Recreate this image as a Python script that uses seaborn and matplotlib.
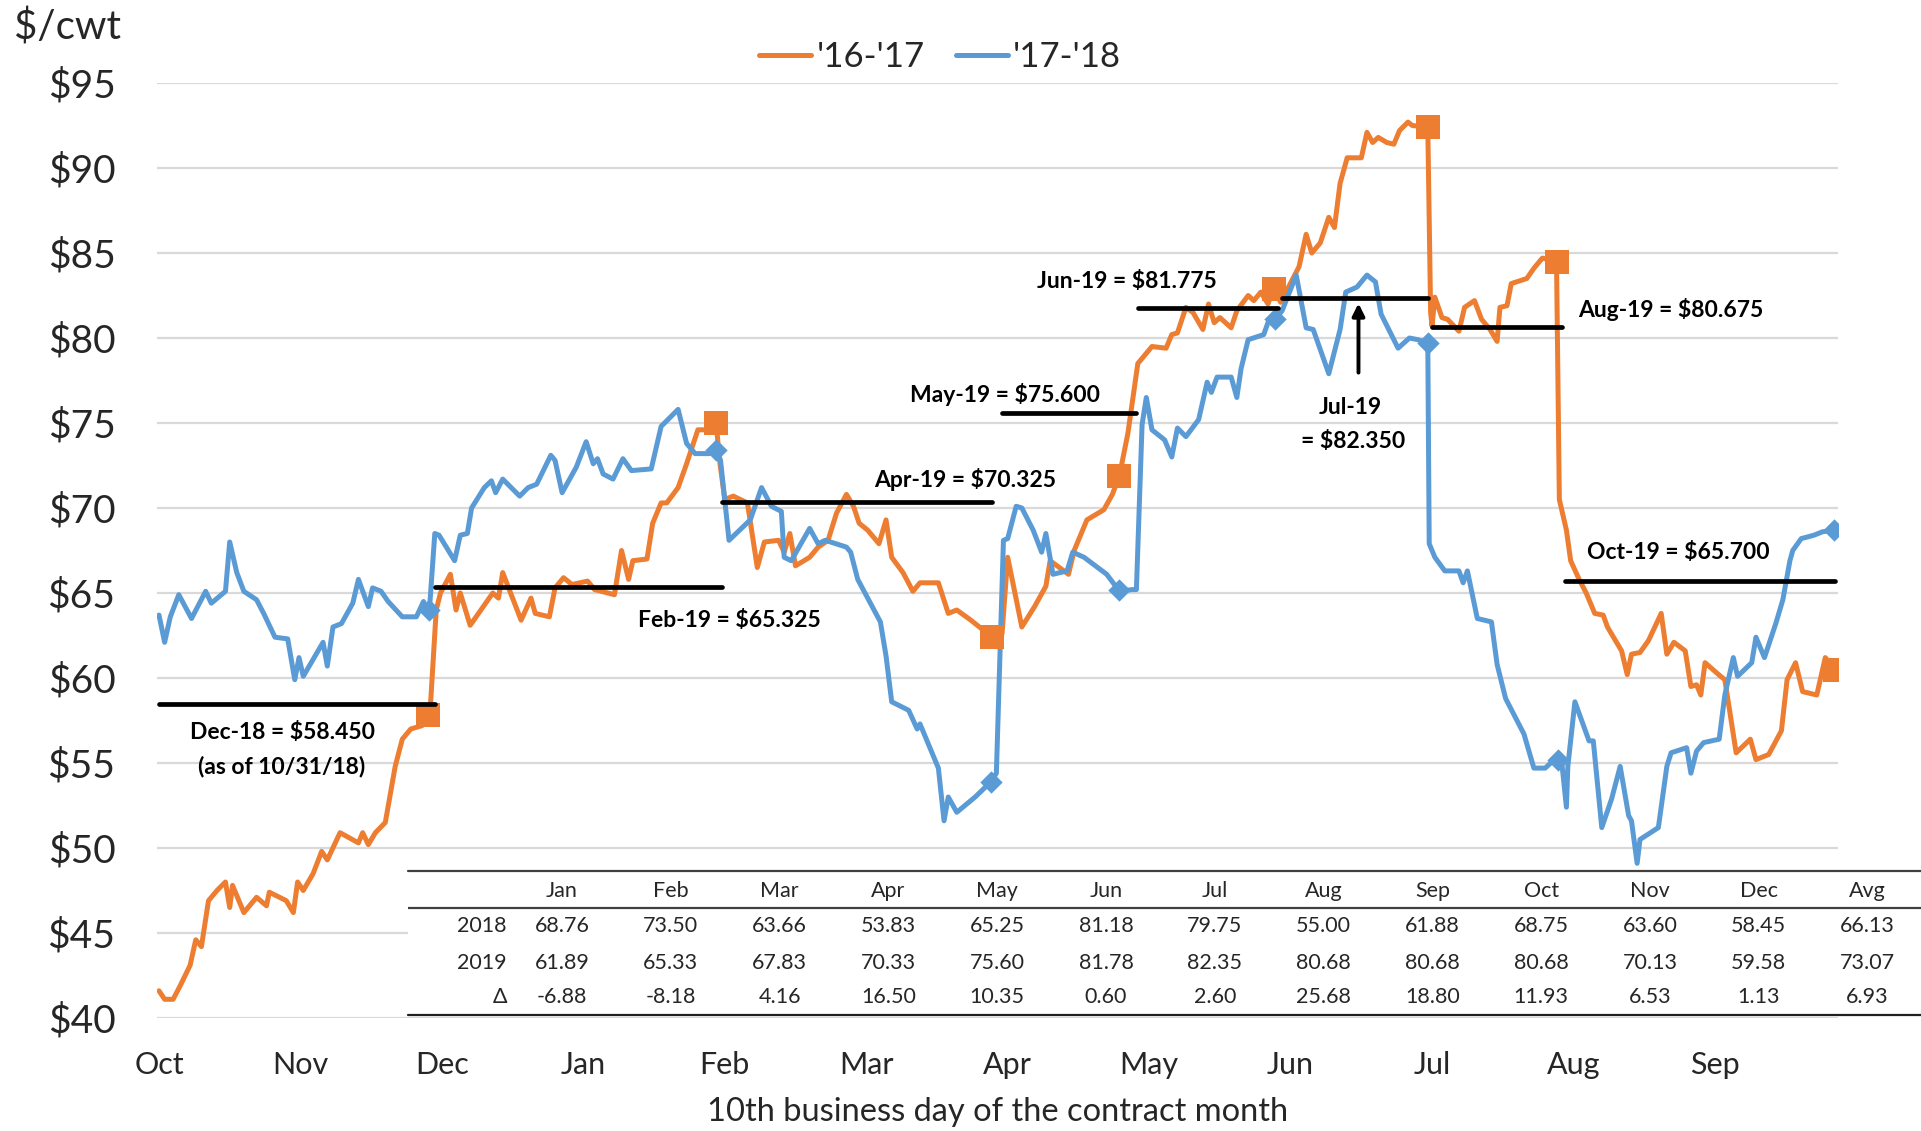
import matplotlib
matplotlib.use("Agg")
import matplotlib.pyplot as plt
import seaborn as sns

# price series, x in months from the start of October (0 = Oct, 11 = Sep)
orange_m = [0.00, 0.04, 0.10, 0.15, 0.22, 0.26, 0.30, 0.35, 0.41, 0.47, 0.50, 0.52, 0.60, 0.69, 0.76, 0.78,
            0.90, 0.95, 0.98, 1.02, 1.09, 1.15, 1.19, 1.28, 1.41, 1.44, 1.48, 1.53, 1.60, 1.63, 1.67, 1.72,
            1.78, 1.86, 1.90, 1.92, 1.96, 1.99, 2.06, 2.10, 2.13, 2.20, 2.36, 2.40, 2.43, 2.56, 2.63, 2.66,
            2.76, 2.80, 2.86, 2.92, 3.03, 3.08, 3.22, 3.27, 3.32, 3.35, 3.45, 3.49, 3.55, 3.59, 3.67, 3.73,
            3.77, 3.81, 3.87, 3.94, 3.96, 4.00, 4.06, 4.16, 4.23, 4.28, 4.38, 4.42, 4.46, 4.50, 4.60, 4.66,
            4.73, 4.79, 4.86, 4.91, 4.95, 5.01, 5.09, 5.14, 5.18, 5.26, 5.33, 5.38, 5.51, 5.58, 5.64, 5.74,
            5.80, 5.89, 5.96, 6.00, 6.10, 6.19, 6.27, 6.30, 6.43, 6.47, 6.56, 6.68, 6.74, 6.79, 6.85, 6.92,
            6.96, 7.02, 7.12, 7.16, 7.20, 7.26, 7.31, 7.38, 7.42, 7.46, 7.50, 7.58, 7.62, 7.70, 7.74, 7.79,
            7.84, 7.88, 7.93, 8.01, 8.06, 8.11, 8.15, 8.21, 8.27, 8.31, 8.35, 8.40, 8.50, 8.54, 8.58, 8.62,
            8.68, 8.73, 8.77, 8.83, 8.86, 8.97, 8.99, 9.00, 9.02, 9.07, 9.11, 9.19, 9.23, 9.30, 9.35, 9.41,
            9.46, 9.48, 9.53, 9.56, 9.67, 9.72, 9.78, 9.88, 9.90, 9.95, 9.98, 10.04, 10.09, 10.15, 10.21,
            10.24, 10.34, 10.38, 10.41, 10.47, 10.53, 10.62, 10.66, 10.71, 10.79, 10.83, 10.87, 10.90, 10.93,
            11.04, 11.07, 11.10, 11.15, 11.25, 11.29, 11.38, 11.47, 11.51, 11.57, 11.62, 11.72, 11.78, 11.85]
orange_v = [41.6, 41.1, 41.1, 41.9, 43.1, 44.6, 44.2, 46.9, 47.5, 48.0, 46.5, 47.8, 46.2, 47.1, 46.6, 47.4,
            46.9, 46.2, 48.0, 47.5, 48.5, 49.8, 49.3, 50.9, 50.3, 50.9, 50.2, 50.9, 51.5, 52.9, 54.8, 56.4,
            57.0, 57.2, 57.8, 58.5, 64.0, 65.0, 66.1, 64.0, 65.0, 63.1, 65.0, 64.7, 66.2, 63.4, 64.7, 63.8,
            63.6, 65.3, 65.9, 65.5, 65.7, 65.2, 64.9, 67.5, 65.8, 66.9, 67.0, 69.1, 70.3, 70.3, 71.2, 72.6,
            73.6, 74.6, 74.6, 75.0, 73.0, 70.5, 70.7, 70.3, 66.5, 68.0, 68.1, 67.4, 68.5, 66.6, 67.1, 67.7,
            68.1, 69.7, 70.8, 70.1, 69.1, 68.7, 67.9, 69.3, 67.1, 66.2, 65.1, 65.6, 65.6, 63.8, 64.0, 63.4,
            63.0, 62.4, 62.6, 67.1, 63.0, 64.2, 65.4, 66.9, 66.1, 67.5, 69.3, 69.9, 70.8, 71.9, 74.4, 78.5,
            78.9, 79.5, 79.4, 80.2, 80.3, 81.8, 81.5, 80.5, 82.0, 80.9, 81.2, 80.6, 81.6, 82.5, 82.2, 82.7,
            82.0, 82.9, 82.1, 83.4, 84.2, 86.1, 85.0, 85.6, 87.1, 86.5, 89.1, 90.6, 90.6, 92.1, 91.5, 91.8,
            91.5, 91.4, 92.2, 92.7, 92.5, 92.4, 81.5, 80.7, 82.4, 81.2, 81.1, 80.4, 81.8, 82.2, 81.1, 80.5,
            79.8, 81.8, 81.9, 83.2, 83.5, 84.1, 84.7, 84.5, 70.5, 68.7, 66.9, 65.8, 65.0, 63.8, 63.7,
            63.0, 61.6, 60.2, 61.4, 61.5, 62.2, 63.8, 61.4, 62.1, 61.6, 59.5, 59.6, 59.0, 60.9,
            60.1, 59.9, 58.3, 55.6, 56.4, 55.2, 55.5, 56.9, 59.9, 60.9, 59.2, 59.0, 61.2, 60.5]

blue_m = [0.00, 0.04, 0.08, 0.14, 0.23, 0.33, 0.37, 0.47, 0.50, 0.55, 0.60, 0.69, 0.74, 0.82, 0.91, 0.96,
          0.99, 1.02, 1.16, 1.19, 1.23, 1.29, 1.37, 1.41, 1.48, 1.51, 1.57, 1.62, 1.72, 1.82, 1.87, 1.91,
          1.95, 1.98, 2.09, 2.13, 2.18, 2.21, 2.30, 2.35, 2.38, 2.43, 2.55, 2.61, 2.67, 2.77, 2.80, 2.85,
          2.95, 3.02, 3.07, 3.10, 3.14, 3.21, 3.28, 3.34, 3.48, 3.55, 3.67, 3.73, 3.79, 3.89, 3.94, 3.97,
          4.03, 4.18, 4.26, 4.33, 4.40, 4.42, 4.47, 4.60, 4.66, 4.71, 4.86, 4.89, 4.94, 5.10, 5.14, 5.18,
          5.30, 5.36, 5.38, 5.45, 5.51, 5.55, 5.58, 5.64, 5.77, 5.82, 5.88, 5.92, 5.97, 6.00, 6.06, 6.10,
          6.18, 6.24, 6.27, 6.32, 6.42, 6.46, 6.54, 6.70, 6.79, 6.88, 6.91, 6.95, 6.98, 7.02, 7.11, 7.16,
          7.20, 7.26, 7.35, 7.41, 7.44, 7.48, 7.58, 7.62, 7.65, 7.70, 7.81, 7.84, 7.89, 7.94, 8.04, 8.11,
          8.16, 8.27, 8.35, 8.39, 8.47, 8.54, 8.60, 8.64, 8.76, 8.84, 8.90, 8.97, 8.98, 9.02, 9.09, 9.19,
          9.22, 9.25, 9.32, 9.42, 9.46, 9.52, 9.65, 9.72, 9.80, 9.89, 9.92, 9.95, 9.96, 10.01, 10.11, 10.14,
          10.20, 10.27, 10.33, 10.39, 10.41, 10.45, 10.47, 10.60, 10.66, 10.69, 10.80, 10.83, 10.87, 10.92,
          11.03, 11.07, 11.13, 11.16, 11.26, 11.29, 11.35, 11.43, 11.48, 11.53, 11.55, 11.61, 11.70, 11.76,
          11.84]
blue_v = [63.7, 62.1, 63.6, 64.9, 63.5, 65.1, 64.4, 65.1, 68.0, 66.2, 65.1, 64.6, 63.8, 62.4, 62.3, 59.9,
          61.2, 60.1, 62.1, 60.7, 63.0, 63.2, 64.4, 65.8, 64.2, 65.3, 65.1, 64.5, 63.6, 63.6, 64.5, 63.8,
          68.5, 68.4, 66.9, 68.4, 68.5, 70.0, 71.2, 71.6, 70.9, 71.7, 70.7, 71.2, 71.4, 73.1, 72.8, 70.9,
          72.4, 73.9, 72.6, 72.9, 72.0, 71.7, 72.9, 72.2, 72.3, 74.8, 75.8, 73.8, 73.2, 73.2, 73.4, 72.8,
          68.1, 69.3, 71.2, 70.1, 69.8, 67.1, 66.9, 68.8, 67.9, 68.1, 67.7, 67.4, 65.8, 63.3, 61.3, 58.6,
          58.1, 57.0, 57.3, 55.9, 54.7, 51.6, 53.0, 52.1, 53.0, 53.4, 53.9, 54.4, 68.1, 68.2, 70.1, 70.0,
          68.7, 67.4, 68.5, 66.1, 66.3, 67.4, 67.1, 66.1, 65.1, 65.2, 65.2, 74.9, 76.5, 74.6, 74.0, 73.0,
          74.7, 74.2, 75.2, 77.4, 76.8, 77.7, 77.7, 76.5, 78.2, 79.9, 80.2, 80.9, 81.1, 81.6, 83.7, 80.6,
          80.5, 77.9, 80.5, 82.7, 83.0, 83.7, 83.3, 81.4, 79.4, 80.0, 79.9, 79.7, 67.9, 67.1, 66.3, 66.3,
          65.6, 66.3, 63.5, 63.3, 60.8, 58.8, 56.7, 54.7, 54.7, 55.4, 54.8, 52.4, 54.8, 58.6, 56.3, 56.3,
          51.2, 52.9, 54.8, 51.9, 51.6, 49.1, 50.5, 51.2, 54.8, 55.6, 55.9, 54.4, 55.7, 56.2,
          56.4, 59.0, 61.2, 60.1, 60.9, 62.4, 61.2, 63.2, 64.6, 66.9, 67.5, 68.2, 68.4, 68.6,
          68.7]

# contract expiry markers
orange_mark_m = [1.90, 3.94, 5.89, 6.79, 7.88, 8.97, 9.88, 11.85]
orange_mark_v = [57.8, 75.0, 62.4, 71.9, 82.9, 92.4, 84.5, 60.5]
blue_mark_m = [1.91, 3.94, 5.88, 6.79, 7.89, 8.97, 9.89, 11.84]
blue_mark_v = [64.0, 73.4, 53.9, 65.2, 81.1, 79.7, 55.2, 68.7]

# current futures prices (black bars)
fut_names = ["Dec-18", "Feb-19", "Apr-19", "May-19", "Jun-19", "Jul-19", "Aug-19", "Oct-19"]
fut_price = [58.450, 65.325, 70.325, 75.600, 81.775, 82.350, 80.675, 65.700]
fut_start = [0.00, 1.95, 3.98, 5.96, 6.92, 7.94, 9.00, 9.94]
fut_end = [1.95, 3.98, 5.89, 6.91, 7.91, 8.97, 9.92, 11.85]

month_ticks = ["Oct", "Nov", "Dec", "Jan", "Feb", "Mar", "Apr", "May", "Jun", "Jul", "Aug", "Sep"]

# table under the chart
tab_cols = ["Jan", "Feb", "Mar", "Apr", "May", "Jun", "Jul", "Aug", "Sep", "Oct", "Nov", "Dec", "Avg"]
tab_2018 = ["68.76", "73.50", "63.66", "53.83", "65.25", "81.18", "79.75", "55.00", "61.88", "68.75", "63.60", "58.45", "66.13"]
tab_2019 = ["61.89", "65.33", "67.83", "70.33", "75.60", "81.78", "82.35", "80.68", "80.68", "80.68", "70.13", "59.58", "73.07"]
tab_delta = ["-6.88", "-8.18", "4.16", "16.50", "10.35", "0.60", "2.60", "25.68", "18.80", "11.93", "6.53", "1.13", "6.93"]

ORANGE = "#ED7D31"
BLUE = "#5B9BD5"

sns.set_theme(style="white")
plt.rcParams['font.family'] = ['Lato', 'DejaVu Sans']

W, H = 1921, 1131
fig = plt.figure(figsize=(W / 100, H / 100), dpi=100)
ax = fig.add_axes([157 / W, 1 - 1018 / H, (1838 - 157) / W, (1018 - 83) / H])

sns.lineplot(x=orange_m, y=orange_v, ax=ax, color=ORANGE, lw=3.6, sort=False, estimator=None, label="'16-'17")
sns.lineplot(x=blue_m, y=blue_v, ax=ax, color=BLUE, lw=3.6, sort=False, estimator=None, label="'17-'18")
sns.scatterplot(x=orange_mark_m, y=orange_mark_v, ax=ax, color=ORANGE, marker="s", s=300, linewidth=0, zorder=4)
sns.scatterplot(x=blue_mark_m, y=blue_mark_v, ax=ax, color=BLUE, marker="D", s=130, linewidth=0, zorder=4)

ax.hlines(fut_price, fut_start, fut_end, color="black", lw=3.4, zorder=5, capstyle="round")

# labels for the black bars
lab = dict(fontsize=16.5, fontweight="bold", ha="center", va="center", color="black", zorder=6)
ax.text(0.87, 56.8, "Dec-18 = $58.450", **lab)
ax.text(0.87, 54.8, "(as of 10/31/18)", **lab)
ax.text(4.03, 63.4, "Feb-19 = $65.325", **lab)
ax.text(5.70, 71.7, "Apr-19 = $70.325", **lab)
ax.text(5.98, 76.7, "May-19 = $75.600", **lab)
ax.text(6.84, 83.3, "Jun-19 = $81.775", **lab)
ax.text(8.42, 75.9, "Jul-19", **lab)
ax.text(8.44, 73.9, "= $82.350", **lab)
ax.text(10.69, 81.7, "Aug-19 = $80.675", **lab)
ax.text(10.74, 67.4, "Oct-19 = $65.700", **lab)
ax.annotate("", xy=(8.48, 82.2), xytext=(8.48, 77.8),
            arrowprops=dict(arrowstyle="-|>", color="black", lw=2.8, mutation_scale=18), zorder=6)

ax.set_xlim(-0.014, 11.87)
ax.set_ylim(40, 95)
ax.set_yticks(range(40, 96, 5))
ax.set_yticklabels([f"${v}" for v in range(40, 96, 5)], fontsize=28)
ax.set_xticks(range(12))
ax.set_xticklabels(month_ticks, fontsize=22)
ax.tick_params(axis="y", length=0, pad=30)
ax.tick_params(axis="x", length=0, pad=24)
ax.yaxis.grid(True, color="#d9d9d9", lw=1.6)
ax.set_axisbelow(True)
sns.despine(ax=ax, left=True, bottom=True)
ax.set_xlabel("10th business day of the contract month", fontsize=23.5, va="center")
ax.xaxis.set_label_coords(0.5, -0.1005)
ax.set_ylabel("")

fig.text(14 / W, 1 - 27 / H, "$/cwt", fontsize=29, ha="left", va="center")

ax.legend(loc="center", bbox_to_anchor=(940 / W, 1 - 57 / H), bbox_transform=fig.transFigure, ncol=2,
          frameon=False, fontsize=25, handlelength=1.5, handletextpad=0.15, columnspacing=0.9)

# data table overlay
tx0, tx1, ty0, ty1 = 408, 1921, 870, 1016
tab = fig.add_axes([tx0 / W, 1 - ty1 / H, (tx1 - tx0) / W, (ty1 - ty0) / H])
tab.set_facecolor("white")
tab.set_xlim(tx0, tx1)
tab.set_ylim(ty1, ty0)
tab.set_xticks([])
tab.set_yticks([])
for s in tab.spines.values():
    s.set_visible(False)
tab.axhline(ty0 + 1, color="#404040", lw=1.6, clip_on=False)
tab.axhline(908, color="#404040", lw=1.6)
tab.axhline(ty1 - 1, color="#202020", lw=1.6, clip_on=False)

col_x = [562 + j * 108.8 for j in range(len(tab_cols))]
row_y = [891, 926, 963, 997]
tfont = dict(fontsize=15.5, va="center", color="#262626")
for cx, name in zip(col_x, tab_cols):
    tab.text(cx, row_y[0], name, ha="center", **tfont)
for ry, lbl, row in zip(row_y[1:], ["2018", "2019", "Δ"], [tab_2018, tab_2019, tab_delta]):
    tab.text(507, ry, lbl, ha="right", **tfont)
    for cx, val in zip(col_x, row):
        tab.text(cx, ry, val, ha="center", **tfont)

fig.savefig("out.png", dpi=100)
